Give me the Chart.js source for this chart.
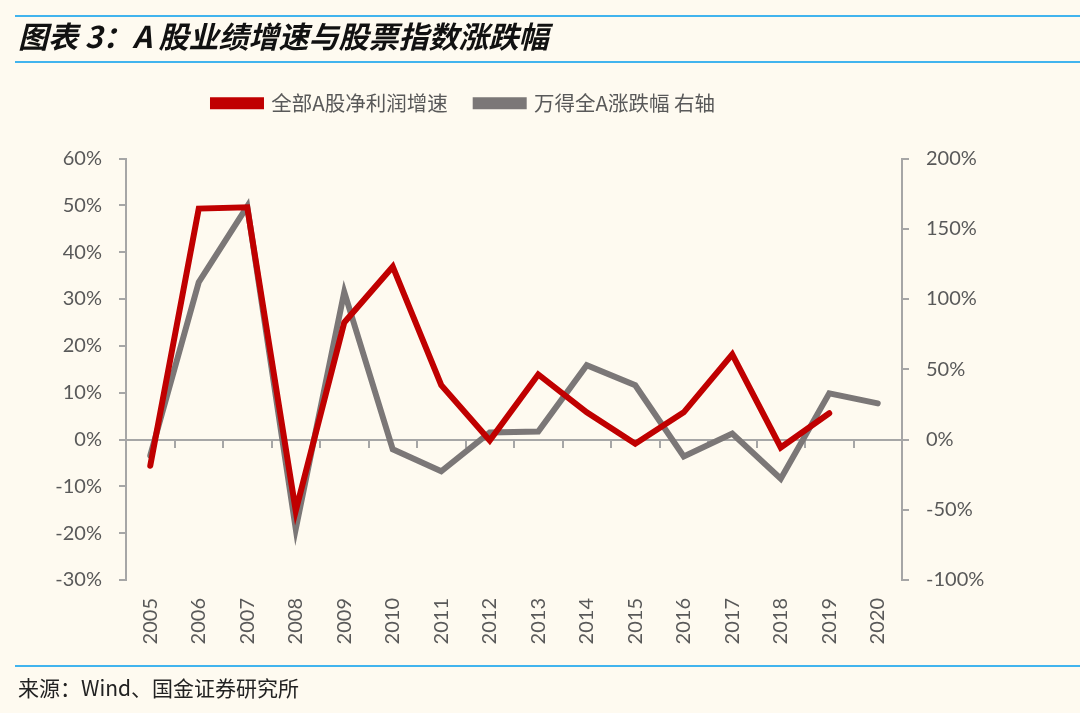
<!DOCTYPE html>
<html>
<head>
<meta charset="utf-8">
<script src="https://cdn.jsdelivr.net/npm/chart.js@4.4.1/dist/chart.umd.min.js"></script>
<style>
  html, body { margin: 0; padding: 0; background: #FEFAF0; }
  #wrap { position: relative; width: 1080px; height: 713px; overflow: hidden; background: #FEFAF0; }
  #c { position: absolute; left: 0; top: 0; }
  .hline { position: absolute; left: 15px; right: 0; height: 2px; background: #41B4EE; }
  #title { position: absolute; left: 18px; top: 18px; font: italic bold 30px "Noto Sans CJK SC", sans-serif; color: #111; line-height: 34px; white-space: nowrap; }
  #foot { position: absolute; left: 18px; top: 674px; font: 21px "Noto Sans CJK SC", sans-serif; color: #222; line-height: 26px; white-space: nowrap; }
</style>
</head>
<body>
<div id="wrap">
  <canvas id="c" width="1080" height="713"></canvas>
  <div class="hline" style="top:15px"></div>
  <div id="title">图表 3：A 股业绩增速与股票指数涨跌幅</div>
  <div class="hline" style="top:61px"></div>
  <div class="hline" style="top:665px"></div>
  <div id="foot">来源：Wind、国金证券研究所</div>
</div>
<script>
const categories = ['2005','2006','2007','2008','2009','2010','2011','2012','2013','2014','2015','2016','2017','2018','2019','2020'];
const profitGrowth = [-5.6, 49.3, 49.6, -15.2, 25.0, 36.9, 11.6, -0.2, 13.9, 5.8, -0.9, 5.8, 18.2, -1.7, 5.6, null];
const indexChange = [-11.4, 112, 166, -63.6, 105, -7, -22.6, 5, 5.7, 52.9, 38.6, -12, 4.3, -27.9, 32.9, 25.7];
const leftTicks = {min: -30, max: 60, step: 10};
const rightTicks = {min: -100, max: 200, step: 50};
const seriesNames = ['全部A股净利润增速', '万得全A涨跌幅 右轴'];

const axisColor = '#A6A6A6';
const textColor = '#595959';
const tickFont = {family: 'Lato, "Open Sans", sans-serif', size: 20};

const legendTweak = {
  id: 'legendTweak',
  beforeLayout(chart) {
    const lg = chart.legend;
    if (lg && !lg._tweaked) {
      const orig = lg.fit;
      lg.fit = function () { orig.apply(this, arguments); this.height += 35; };
      lg._tweaked = true;
    }
  },
  afterLayout(chart) {
    const lg = chart.legend;
    if (lg) { lg.left -= 76; lg.right -= 76; }
  }
};

new Chart(document.getElementById('c'), {
  type: 'line',
  data: {
    labels: categories,
    datasets: [
      { label: seriesNames[0], data: profitGrowth, yAxisID: 'y', borderColor: '#C00000', backgroundColor: '#C00000',
        borderWidth: 6, pointRadius: 0, tension: 0, borderCapStyle: 'round', spanGaps: false },
      { label: seriesNames[1], data: indexChange, yAxisID: 'y1', borderColor: '#7B7777', backgroundColor: '#7B7777',
        borderWidth: 6, pointRadius: 0, tension: 0, borderCapStyle: 'round' }
    ]
  },
  options: {
    responsive: false,
    animation: false,
    devicePixelRatio: 1,
    layout: { padding: { top: 65, left: 0, right: 0, bottom: 0 } },
    plugins: {
      legend: {
        position: 'top',
        labels: {
          color: textColor,
          font: {family: '"Noto Sans CJK SC", sans-serif', size: 20.5},
          boxWidth: 48, boxHeight: 6, padding: 28
        }
      },
      tooltip: { enabled: false }
    },
    scales: {
      x: {
        type: 'category',
        position: 'bottom',
        offset: true,
        grid: { display: false },
        border: { display: false },
        ticks: { color: textColor, font: tickFont, maxRotation: 90, minRotation: 90, padding: 10 },
        afterFit(s) { s.height = 133; }
      },
      x2: {
        type: 'category',
        position: {y: 0},
        offset: true,
        grid: { offset: true, drawOnChartArea: false, color: axisColor, tickColor: axisColor, lineWidth: 2, tickLength: 7 },
        border: { display: true, color: axisColor, width: 2 },
        ticks: { display: false }
      },
      y: {
        position: 'left',
        min: leftTicks.min, max: leftTicks.max,
        grid: { drawOnChartArea: false, color: axisColor, tickColor: axisColor, lineWidth: 2, tickLength: 7 },
        border: { display: true, color: axisColor, width: 2 },
        ticks: { stepSize: leftTicks.step, color: textColor, font: tickFont, padding: 17, callback: v => v + '%' },
        afterFit(s) { s.width = 126; }
      },
      y1: {
        position: 'right',
        min: rightTicks.min, max: rightTicks.max,
        grid: { drawOnChartArea: false, color: axisColor, tickColor: axisColor, lineWidth: 2, tickLength: 7 },
        border: { display: true, color: axisColor, width: 2 },
        ticks: { stepSize: rightTicks.step, color: textColor, font: tickFont, padding: 17, callback: v => v + '%' },
        afterFit(s) { s.width = 178; }
      }
    }
  },
  plugins: [legendTweak]
});
</script>
</body>
</html>
